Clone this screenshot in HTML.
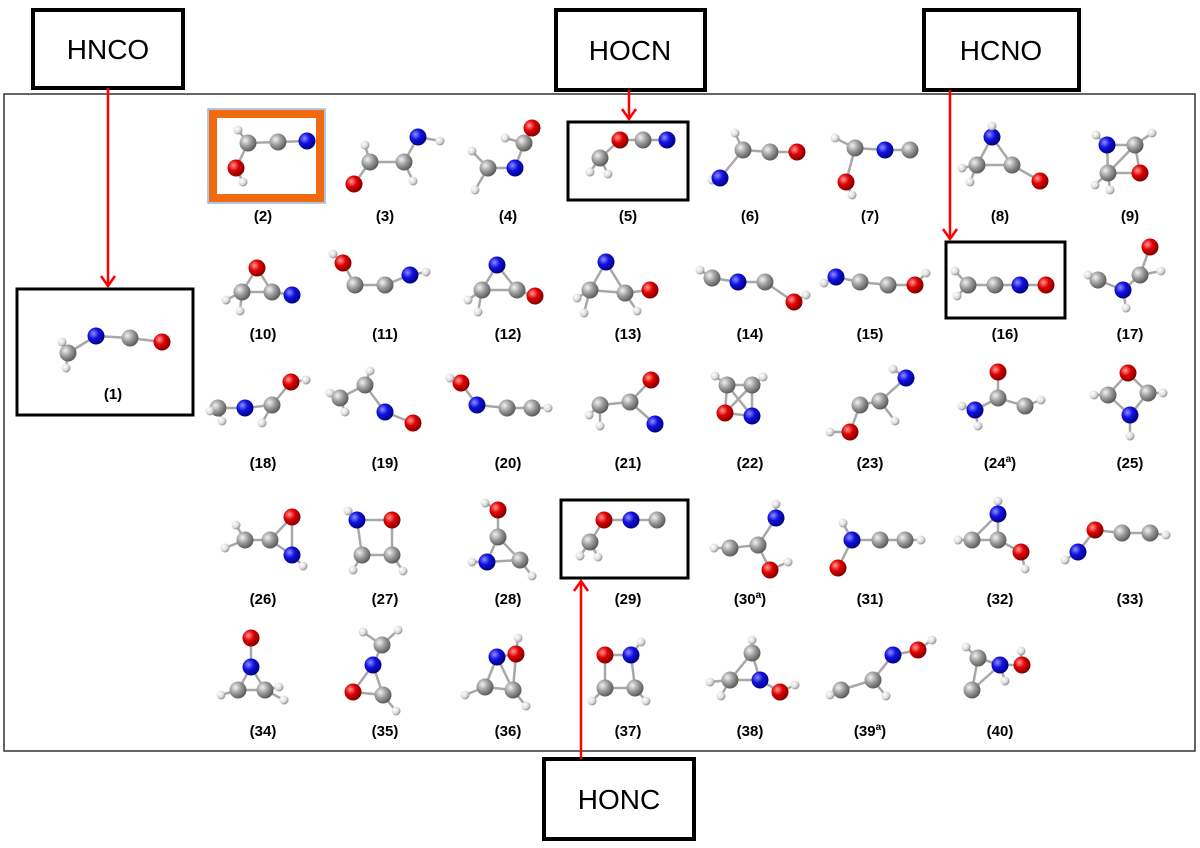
<!DOCTYPE html>
<html><head><meta charset="utf-8"><style>
html,body{margin:0;padding:0;background:#fff;}
body{width:1200px;height:848px;position:relative;overflow:hidden;font-family:"Liberation Sans",sans-serif;}
svg{position:absolute;left:0;top:0;}
</style></head><body>
<svg id="s" width="1200" height="848" viewBox="0 0 1200 848" xmlns="http://www.w3.org/2000/svg">
<defs>
<radialGradient id="gC" cx="0.35" cy="0.35" r="0.7"><stop offset="0" stop-color="#f2f2f2"/><stop offset="0.5" stop-color="#9a9a9a"/><stop offset="1" stop-color="#555"/></radialGradient>
<radialGradient id="gN" cx="0.35" cy="0.35" r="0.7"><stop offset="0" stop-color="#8f8fff"/><stop offset="0.45" stop-color="#1010e0"/><stop offset="1" stop-color="#00007a"/></radialGradient>
<radialGradient id="gO" cx="0.35" cy="0.35" r="0.7"><stop offset="0" stop-color="#ff9a9a"/><stop offset="0.45" stop-color="#e00000"/><stop offset="1" stop-color="#7a0000"/></radialGradient>
<radialGradient id="gH" cx="0.35" cy="0.35" r="0.7"><stop offset="0" stop-color="#ffffff"/><stop offset="0.6" stop-color="#dcdcdc"/><stop offset="1" stop-color="#888"/></radialGradient>
</defs>
<rect x="4" y="94" width="1191" height="657" fill="none" stroke="#333" stroke-width="1.5"/>
<rect x="208" y="109" width="117" height="94" fill="none" stroke="#5b8fd0" stroke-width="1"/>
<rect x="213" y="114" width="107" height="84" fill="none" stroke="#f26a10" stroke-width="8"/>
<g fill="none" stroke="#000" stroke-width="3">
<rect x="17" y="289" width="176" height="126"/>
<rect x="568" y="122" width="120" height="78"/>
<rect x="946" y="242" width="119" height="76"/>
<rect x="561" y="500" width="127" height="78"/>
</g>
<g fill="#fff" stroke="#000" stroke-width="4">
<rect x="33" y="10" width="150" height="78"/>
<rect x="556" y="10" width="149" height="80"/>
<rect x="924" y="10" width="155" height="80"/>
<rect x="544" y="759" width="150" height="80"/>
</g>
<g font-size="28" text-anchor="middle" fill="#000">
<text x="108" y="59">HNCO</text>
<text x="630" y="60">HOCN</text>
<text x="1001" y="60">HCNO</text>
<text x="619" y="809">HONC</text>
</g>
<g stroke="#ff0000" stroke-width="2.5" fill="none">
<line x1="108" y1="88" x2="108" y2="286"/>
<path d="M101,276 L108,286 L115,276"/>
<line x1="629" y1="90" x2="629" y2="119"/>
<path d="M622,109 L629,119 L636,109"/>
<line x1="950" y1="90" x2="950" y2="239"/>
<path d="M943,229 L950,239 L957,229"/>
<line x1="581" y1="759" x2="581" y2="581"/>
<path d="M574,591 L581,581 L588,591"/>
</g>
<g id="mol"></g>
<g font-size="15" font-weight="bold" text-anchor="middle" fill="#000">
<text x="113" y="399">(1)</text>
<text x="263" y="221">(2)</text><text x="385" y="221">(3)</text><text x="508" y="221">(4)</text><text x="628" y="221">(5)</text><text x="750" y="221">(6)</text><text x="870" y="221">(7)</text><text x="1000" y="221">(8)</text><text x="1130" y="221">(9)</text>
<text x="263" y="339">(10)</text><text x="385" y="339">(11)</text><text x="508" y="339">(12)</text><text x="628" y="339">(13)</text><text x="750" y="339">(14)</text><text x="870" y="339">(15)</text><text x="1005" y="339">(16)</text><text x="1130" y="339">(17)</text>
<text x="263" y="468">(18)</text><text x="385" y="468">(19)</text><text x="508" y="468">(20)</text><text x="628" y="468">(21)</text><text x="750" y="468">(22)</text><text x="870" y="468">(23)</text><text x="1000" y="468">(24<tspan font-size="10" dy="-6">a</tspan><tspan dy="6">)</tspan></text><text x="1130" y="468">(25)</text>
<text x="263" y="604">(26)</text><text x="385" y="604">(27)</text><text x="508" y="604">(28)</text><text x="628" y="604">(29)</text><text x="750" y="604">(30<tspan font-size="10" dy="-6">a</tspan><tspan dy="6">)</tspan></text><text x="870" y="604">(31)</text><text x="1000" y="604">(32)</text><text x="1130" y="604">(33)</text>
<text x="263" y="736">(34)</text><text x="385" y="736">(35)</text><text x="508" y="736">(36)</text><text x="628" y="736">(37)</text><text x="750" y="736">(38)</text><text x="870" y="736">(39<tspan font-size="10" dy="-6">a</tspan><tspan dy="6">)</tspan></text><text x="1000" y="736">(40)</text>
</g>
</svg>
<script>
var M=[
"C 68 353,N 96 336,C 130 338,O 162 342,H 62 342,H 66 368",
"H 238 130,C 248 143,C 278 142,N 307 141,O 236 168,H 243 182",
"O 354 184,C 370 162,H 365 145,C 404 162,H 413 181,N 418 137,H 440 141",
"H 472 151,C 488 168,H 475 190,N 515 168,C 524 143,O 532 128,H 505 138",
"O 620 140,C 643 140,N 667 140,C 600 158,H 590 172,H 608 174",
"H 712 180,N 720 178,C 743 150,C 770 152,O 797 152,H 735 133",
"H 835 138,C 855 148,O 846 182,H 852 195,N 885 150,C 910 150",
"N 992 137,H 992 126,C 977 165,C 1012 165,O 1040 181,H 962 168,H 970 182",
"N 1107 145,C 1135 145,O 1140 173,C 1108 173,H 1096 135,H 1152 133,H 1095 185,H 1110 190",
"O 257 268,C 242 292,C 272 292,N 292 295,H 226 300,H 240 311",
"O 343 263,H 333 254,C 355 285,C 385 285,N 410 275,H 426 272",
"N 497 265,C 482 290,C 517 290,O 535 296,H 468 300,H 478 312",
"N 606 262,C 590 290,C 625 293,O 650 290,H 577 298,H 584 313,H 637 311",
"H 700 270,C 712 278,N 738 282,C 765 282,O 794 302,H 806 295",
"H 824 283,N 836 277,C 860 282,C 888 285,O 915 285,H 926 273",
"C 968 285,H 957 296,H 955 271,C 995 285,N 1020 285,O 1046 285",
"O 1150 247,C 1140 275,N 1123 290,C 1098 280,H 1088 275,H 1126 308,H 1161 271",
"C 218 408,H 210 411,N 245 408,C 272 405,O 291 382,H 306 380,H 262 423,H 222 421",
"H 330 393,C 340 398,C 365 385,H 370 371,N 385 412,O 413 423,H 345 412",
"O 461 383,H 450 378,N 477 405,C 507 408,C 532 408,H 548 408",
"O 651 380,C 630 402,N 655 424,C 600 405,H 589 415,H 600 426",
"C 727 385,C 752 385,O 725 413,N 752 416,H 715 376,H 763 377",
"N 906 378,H 893 369,C 880 401,C 860 405,O 850 432,H 830 432,H 895 421",
"O 998 372,C 998 398,N 975 410,H 962 406,H 978 426,C 1025 406,H 1041 400",
"O 1128 373,C 1108 395,C 1148 393,N 1130 415,H 1130 436,H 1094 395,H 1163 393",
"O 292 517,C 270 540,N 292 555,C 245 540,H 225 548,H 236 525,H 303 566",
"N 357 520,O 392 520,C 362 555,C 392 555,H 348 511,H 353 570,H 403 571",
"H 485 503,O 498 510,C 498 537,N 487 562,C 520 560,H 532 576,H 472 562",
"O 604 520,N 631 520,C 657 520,C 590 542,H 580 556,H 598 557",
"N 776 518,H 776 504,C 758 545,C 730 548,O 770 570,H 788 562,H 714 548",
"H 843 523,N 852 540,O 838 568,C 880 540,C 905 540,H 921 540",
"N 998 514,H 998 501,C 998 540,O 1021 552,C 972 540,H 1025 569,H 958 540",
"O 1095 530,N 1078 552,H 1065 560,C 1122 533,C 1150 533,H 1166 535",
"O 251 638,N 251 667,C 238 690,C 265 690,H 221 695,H 279 687,H 284 700",
"H 398 630,C 382 645,N 373 665,O 353 692,C 383 695,H 363 632,H 396 711",
"O 516 654,H 518 638,N 497 657,C 485 687,C 513 690,H 465 695,H 526 706",
"O 605 655,N 631 655,C 605 688,C 635 688,H 641 642,H 592 701,H 646 701",
"C 752 653,H 752 640,N 760 680,O 780 692,H 795 685,C 730 680,H 710 682,H 721 696",
"N 893 655,O 918 650,H 932 640,C 873 680,C 841 690,H 830 695,H 886 696",
"C 978 658,H 966 647,C 972 690,N 1000 665,O 1022 665,H 1021 651,H 1005 681"
];
var R={C:8.5,N:8.5,O:8.5,H:4.5},g=document.getElementById("mol"),bl="",at="";
M.forEach(function(m){
 var a=m.split(",").map(function(s){var p=s.trim().split(" ");return{t:p[0],x:+p[1],y:+p[2]};});
 a.forEach(function(p,i){
  if(p.t=="H"){var b=null,bd=1e9;a.forEach(function(q){if(q.t!="H"){var d=Math.hypot(q.x-p.x,q.y-p.y);if(d<bd){bd=d;b=q;}}});
   if(b)bl+='<line x1="'+p.x+'" y1="'+p.y+'" x2="'+b.x+'" y2="'+b.y+'"/>';}
  else{for(var j=i+1;j<a.length;j++){var q=a[j];if(q.t!="H"&&Math.hypot(q.x-p.x,q.y-p.y)<40)bl+='<line x1="'+p.x+'" y1="'+p.y+'" x2="'+q.x+'" y2="'+q.y+'"/>';}}
 });
 a.forEach(function(p){at+='<circle cx="'+p.x+'" cy="'+p.y+'" r="'+R[p.t]+'" fill="url(#g'+p.t+')"/>';});
});
g.innerHTML='<g stroke="#a8a8a8" stroke-width="2.5">'+bl+'</g>'+at;
</script>
</body></html>
